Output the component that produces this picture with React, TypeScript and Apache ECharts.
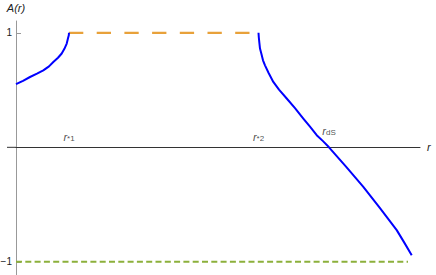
import React, { useEffect, useRef } from "react";
import * as echarts from "echarts";

// Lower branch (r < r*1)
const curve1X = [0, 0.175, 0.35, 0.525, 0.683, 0.825, 0.933, 1.05, 1.143, 1.21, 1.268, 1.30, 1.32, 1.325];
const curve1Y = [0.551, 0.581, 0.614, 0.643, 0.672, 0.707, 0.745, 0.782, 0.819, 0.860, 0.906, 0.952, 0.978, 1.0];

// Upper branch (r > r*2)
const curve2X = [6.0625, 6.07, 6.083, 6.10, 6.1375, 6.175, 6.225, 6.3125, 6.433, 6.575, 6.768, 6.975, 7.183, 7.35, 7.518, 7.675, 7.825, 8.25, 8.683, 9.1, 9.518, 9.7, 9.893];
const curve2Y = [1.0, 0.961, 0.917, 0.862, 0.813, 0.760, 0.716, 0.651, 0.571, 0.503, 0.426, 0.342, 0.251, 0.180, 0.106, 0.054, 0.0, -0.169, -0.346, -0.532, -0.723, -0.828, -0.942];

const rStar1 = 1.325;
const rStar2 = 6.0625;
const rdS = 7.825;
const rEnd = 9.8;

const yTicks = [-1, 1];
const FONT = "'Liberation Sans', Arial, sans-serif";

export default function App() {
  const ref = useRef<HTMLDivElement>(null);
  useEffect(() => {
    if (!ref.current) return;
    const chart = echarts.init(ref.current, null, { renderer: "svg" });
    const zip = (xs: number[], ys: number[]) => xs.map((x, i) => [x, ys[i]]);
    const rich = {
      i: { fontFamily: FONT, fontStyle: "italic", fontSize: 11, color: "#222", lineHeight: 14, verticalAlign: "bottom" },
      s: { fontFamily: FONT, fontSize: 8, color: "#222", lineHeight: 8, verticalAlign: "bottom" },
    };
    chart.setOption({
      animation: false,
      grid: { left: 16, right: 16, top: 21, bottom: 0, containLabel: false, outerBoundsMode: "none" },
      xAxis: {
        type: "value",
        min: 0,
        max: 10.1,
        axisLine: { show: true, onZero: true, lineStyle: { color: "#333", width: 1 } },
        axisTick: { show: false },
        axisLabel: { show: false },
        splitLine: { show: false },
        name: "r",
        nameLocation: "end",
        nameGap: 7,
        nameTextStyle: { fontFamily: FONT, fontStyle: "italic", fontSize: 11, color: "#222" },
      },
      yAxis: {
        type: "value",
        min: -1.115,
        max: 1.103,
        axisLine: { show: true, onZero: false, lineStyle: { color: "#999", width: 1 } },
        axisTick: { show: true, inside: true, length: 5, customValues: yTicks, lineStyle: { color: "#999" } },
        axisLabel: {
          show: true,
          customValues: yTicks,
          margin: 4,
          fontFamily: FONT,
          fontSize: 10,
          color: "#222",
          formatter: (v: number) => (v < 0 ? "\u22121" : String(v)),
        },
        splitLine: { show: false },
        name: "A(r)",
        nameLocation: "end",
        nameGap: 8,
        nameTextStyle: { fontFamily: FONT, fontStyle: "italic", fontSize: 11, color: "#222", align: "center" },
      },
      series: [
        {
          type: "line",
          data: [[0, -1], [rEnd, -1]],
          showSymbol: false,
          lineStyle: { color: "#8CB03B", width: 2, type: [6, 3.3] },
          z: 3,
        },
        {
          type: "line",
          data: [[rStar1, 1], [rStar2, 1]],
          showSymbol: false,
          lineStyle: { color: "#E8A13A", width: 2.2, type: [14.3, 13.4] },
          z: 3,
        },
        {
          type: "line",
          data: zip(curve1X, curve1Y),
          showSymbol: false,
          smooth: false,
          lineStyle: { color: "#0000FF", width: 2, join: "round" },
          z: 4,
        },
        {
          type: "line",
          data: zip(curve2X, curve2Y),
          showSymbol: false,
          smooth: false,
          lineStyle: { color: "#0000FF", width: 2, join: "round" },
          z: 4,
        },
        {
          type: "scatter",
          symbolSize: 0,
          silent: true,
          data: [
            { value: [rStar1, 0], label: { formatter: "{i|r}{s|*1}", distance: 5 } },
            { value: [rStar2, 0], label: { formatter: "{i|r}{s|*2}", distance: 5 } },
            { value: [rdS, 0], label: { formatter: "{i|r}{s|dS}", distance: 11 } },
          ],
          label: { show: true, position: "top", color: "#222", rich },
          z: 5,
        },
      ],
    });
    const p0 = chart.convertToPixel({ gridIndex: 0 }, [0, 0]) as number[];
    chart.setOption({
      graphic: [
        {
          type: "line",
          silent: true,
          shape: { x1: p0[0] - 9, y1: p0[1], x2: p0[0], y2: p0[1] },
          style: { stroke: "#333", lineWidth: 1 },
        },
      ],
    });
    return () => chart.dispose();
  }, []);
  return (
    <div
      ref={ref}
      style={{ position: "fixed", left: 0, top: 0, width: 436, height: 275, background: "#fff" }}
    />
  );
}
